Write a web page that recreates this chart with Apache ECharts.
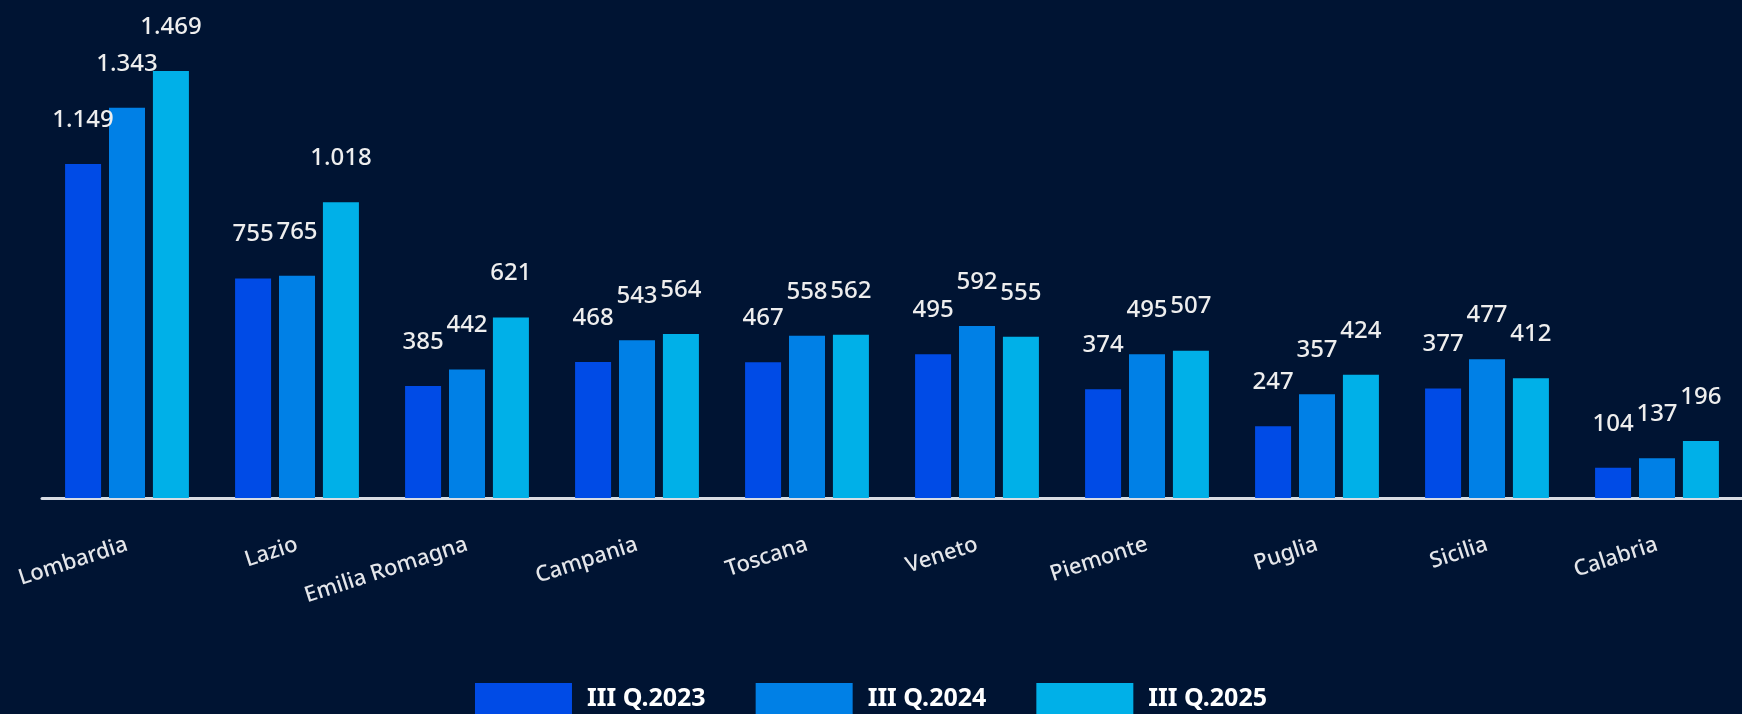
<!DOCTYPE html>
<html>
<head>
<meta charset="utf-8">
<style>
  html, body { margin: 0; padding: 0; background: #001433; }
  #chart { width: 1742px; height: 714px; }
</style>
<script src="https://cdn.jsdelivr.net/npm/echarts@6/dist/echarts.min.js"></script>
</head>
<body>
<div id="chart"></div>
<script>
// regioni
var regions = ['Lombardia', 'Lazio', 'Emilia Romagna', 'Campania', 'Toscana', 'Veneto', 'Piemonte', 'Puglia', 'Sicilia', 'Calabria'];
// serie per trimestre
var seriesNames = ['III Q.2023', 'III Q.2024', 'III Q.2025'];
var q2023 = [1149, 755, 385, 468, 467, 495, 374, 247, 377, 104];
var q2024 = [1343, 765, 442, 543, 558, 592, 495, 357, 477, 137];
var q2025 = [1469, 1018, 621, 564, 562, 555, 507, 424, 412, 196];

var colors = ['#004BE6', '#0080E6', '#00B0E8'];

// 1149 -> "1.149"
function fmt (v) {
  return String(v).replace(/\B(?=(\d{3})+(?!\d))/g, '.');
}

var chart = echarts.init(document.getElementById('chart'));

function makeSeries (name, data) {
  return {
    name: name,
    type: 'bar',
    data: data,
    barWidth: 36,
    barGap: '22%',
    label: {
      show: true,
      position: 'top',
      distance: 32,
      color: '#eeeeee',
      fontSize: 24,
      fontWeight: 500,
      fontFamily: 'Noto Sans',
      formatter: function (p) { return fmt(p.value); }
    }
  };
}

var option = {
  backgroundColor: '#001433',
  color: colors,
  animation: false,
  grid: {
    left: 42,
    right: 0,
    top: 33,
    bottom: 216
  },
  legend: {
    data: seriesNames,
    top: 678,
    left: 'center',
    itemWidth: 97,
    itemHeight: 31,
    itemGap: 50,
    icon: 'rect',
    textStyle: {
      color: '#ffffff',
      fontSize: 25,
      fontWeight: 'bold',
      fontFamily: 'Noto Sans',
      padding: [0, 0, 0, 10]
    }
  },
  xAxis: {
    type: 'category',
    data: regions,
    axisLine: { lineStyle: { color: '#d8dce4', width: 3 } },
    axisTick: { show: false },
    axisLabel: {
      interval: 0,
      rotate: 18,
      margin: 46,
      color: '#e4e6ea',
      fontSize: 22,
      fontWeight: 500,
      fontFamily: 'Noto Sans'
    }
  },
  yAxis: {
    type: 'value',
    min: 0,
    max: 1600,
    show: false,
    splitLine: { show: false }
  },
  series: [
    makeSeries(seriesNames[0], q2023),
    makeSeries(seriesNames[1], q2024),
    makeSeries(seriesNames[2], q2025)
  ]
};

chart.setOption(option);
</script>
</body>
</html>
